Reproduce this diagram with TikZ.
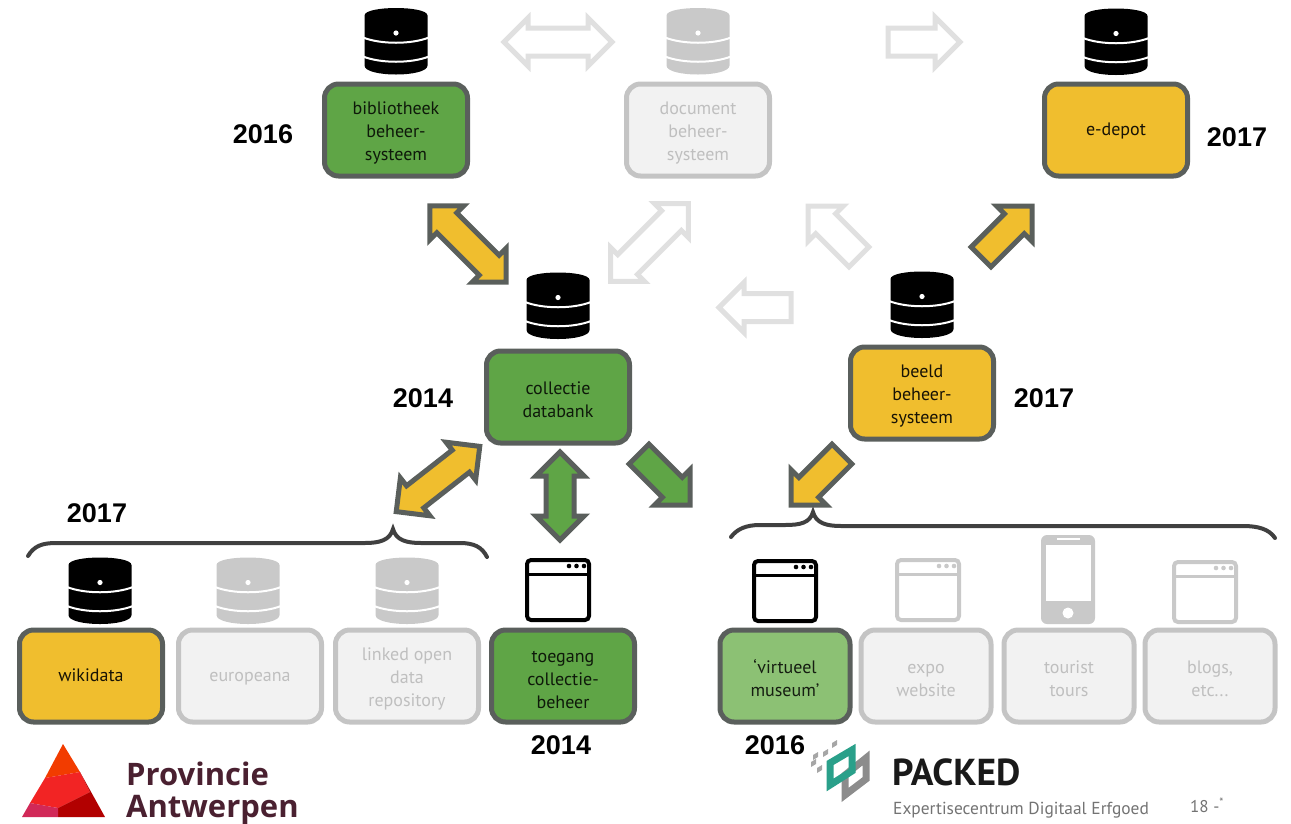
\documentclass[tikz,border=0pt]{standalone}
\usepackage{fontspec}
\usepackage{xcolor}
\usepackage{tikz}
\usetikzlibrary{shapes.arrows}
\setmainfont{Liberation Sans}
\newfontfamily\boxfont{PT Sans}
\newfontfamily\provfont{Open Sans}

\definecolor{boxgreen}{HTML}{5FA546}
\definecolor{boxlight}{HTML}{8CC174}
\definecolor{boxyellow}{HTML}{F0BE2E}
\definecolor{boxgrey}{HTML}{F2F2F2}
\definecolor{edgedark}{HTML}{5A5F5C}
\definecolor{edgegrey}{HTML}{C4C4C4}
\definecolor{arrowgrey}{HTML}{E0E0E0}
\definecolor{icongrey}{HTML}{C9C9C9}
\definecolor{provtext}{HTML}{4A2030}
\definecolor{packedteal}{HTML}{2AA08A}

\newcommand{\topgap}{\rule{0pt}{19pt}}
\newcommand{\onegap}{\rule[-5pt]{0pt}{20pt}}

\tikzset{
    sys/.style={rectangle, rounded corners=14, draw=edgedark, line width=5, inner sep=0,
        minimum width=143, minimum height=92, align=center,
        font=\boxfont\fontsize{18}{23}\selectfont},
    sysgreen/.style={sys, fill=boxgreen, text=black!85!boxgreen},
    syslight/.style={sys, fill=boxlight, text=black!85!boxlight, minimum width=130},
    sysyellow/.style={sys, fill=boxyellow, text=black!90!boxyellow},
    sysgrey/.style={sys, fill=boxgrey, draw=edgegrey, text=black!25},
    year/.style={font=\bfseries\fontsize{27}{27}\selectfont, inner sep=0},
    oneway/.style={single arrow, anchor=tip, line width=5, inner sep=0, outer sep=0,
        text height=23, text depth=0, single arrow head extend=11, single arrow head indent=0},
    twoway/.style={double arrow, line width=5, inner sep=0, outer sep=0,
        text height=23, text depth=0, double arrow head extend=10, double arrow head indent=0},
    onegrey/.style={oneway, draw=arrowgrey, fill=white},
    twogrey/.style={twoway, draw=arrowgrey, fill=white},
    oneyellow/.style={oneway, draw=edgedark, fill=boxyellow},
    twoyellow/.style={twoway, draw=edgedark, fill=boxyellow},
    onegreen/.style={oneway, draw=edgedark, fill=boxgreen},
    twogreen/.style={twoway, draw=edgedark, fill=boxgreen},
    bracket/.style={draw=black!75, line width=4, line cap=round},
    pics/dbicon/.style={code={
        \fill[#1] (-31.5,-26) .. controls (-31.5,-36) and (31.5,-36) .. (31.5,-26)
            -- (31.5,24) .. controls (31.5,36) and (-31.5,36) .. (-31.5,24) -- cycle;
        \draw[white, line width=2] (-33,-4) .. controls (-15,3) and (15,3) .. (33,-4)
            (-33,15) .. controls (-15,22) and (15,22) .. (33,15);
        \fill[white] (0,-8.5) circle (2.6);
    }},
    pics/winicon/.style={code={
        \draw[#1, line width=4, rounded corners=4, fill=white] (-31,-30) rectangle (31,30);
        \draw[#1, line width=3] (-31,-16) -- (31,-16);
        \foreach \dotx in {11,18.5,26} \fill[#1] (\dotx,-24) circle (2.3);
    }},
}

\begin{document}
\begin{tikzpicture}[x=1pt, y=-1pt]
    \useasboundingbox (0,0) rectangle (1291,823);

    % systems
    \node[sysgreen] (bib) at (396,130) {\topgap bibliotheek\\beheer-\\systeem};
    \node[sysgrey] (doc) at (698,130) {\topgap document\\beheer-\\systeem};
    \node[sysyellow] (dep) at (1116,130) {\onegap e-depot};
    \node[sysgreen] (col) at (558,397) {\topgap collectie\\databank};
    \node[sysyellow] (bee) at (922,393) {\topgap beeld\\beheer-\\systeem};
    \node[sysyellow] (wik) at (91,676) {\onegap wikidata};
    \node[sysgrey] (eur) at (250,676) {\onegap europeana};
    \node[sysgrey] (lod) at (407,676) {\topgap linked open\\data\\repository};
    \node[sysgreen] (toe) at (563,676) {\topgap toegang\\collectie-\\beheer};
    \node[syslight] (vir) at (785,676) {\topgap ‘virtueel\\museum’};
    \node[sysgrey, minimum width=130] (exp) at (926,676) {\topgap expo\\website};
    \node[sysgrey, minimum width=130] (tou) at (1069,676) {\topgap tourist\\tours};
    \node[sysgrey, minimum width=130] (blo) at (1210,676) {\topgap blogs,\\etc...};

    % icons
    \pic at (396,41.5) {dbicon=black};
    \pic at (698,41.5) {dbicon=icongrey};
    \pic at (1116,42) {dbicon=black};
    \pic at (558,306) {dbicon=black};
    \pic at (922,305) {dbicon=black};
    \pic at (100,591) {dbicon=black};
    \pic at (248,591) {dbicon=icongrey};
    \pic at (407,591) {dbicon=icongrey};
    \pic at (558,590) {winicon=black};
    \pic at (785,591) {winicon=black};
    \pic at (928,590) {winicon=icongrey};
    \pic at (1205,592) {winicon=icongrey};

    \fill[icongrey, rounded corners=6] (1041,535) rectangle (1095,624);
    \fill[white] (1046,545) rectangle (1091,601);
    \fill[white] (1068,613) circle (5.5);
    \draw[white, line width=1.5] (1057,539) -- (1080,539);

    % arrows
    \node[twogrey, minimum height=108] (a1) at (558,42) {};
    \node[onegrey, minimum height=72] (a2) at (960,42) {};
    \node[twoyellow, rotate=-45, minimum height=108] (a3) at (468,244) {};
    \node[twogrey, rotate=45, minimum height=110] (a4) at (649.5,242.5) {};
    \node[onegrey, rotate=135, minimum height=72] (a5) at (808,206) {};
    \node[onegrey, rotate=180, minimum height=72] (a6) at (719,307.5) {};
    \node[oneyellow, rotate=45, minimum height=72] (a7) at (1032,206) {};
    \node[twoyellow, rotate=38, minimum height=106] (a8) at (438,479) {};
    \node[twogreen, rotate=90, minimum height=88] (a9) at (560,496) {};
    \node[onegreen, rotate=-45, minimum height=72] (a10) at (690,505) {};
    \node[oneyellow, rotate=-135, minimum height=72] (a11) at (791,505) {};

    % braces
    \draw[bracket] (28,556) .. controls (34,546) and (42,543) .. (56,543) -- (365,543)
        .. controls (380,543) and (390,540) .. (393,529)
        .. controls (396,540) and (406,543) .. (421,543) -- (460,543)
        .. controls (474,543) and (482,547) .. (487,557);
    \draw[bracket] (731,537) .. controls (737,529) and (746,525) .. (760,525) -- (785,525)
        .. controls (800,525) and (810,523) .. (813,512)
        .. controls (816,523) and (826,526) .. (841,526) -- (1243,526)
        .. controls (1258,526) and (1269,529) .. (1275,538);

    % years
    \node[year] (y1) at (263,134) {2016};
    \node[year] (y2) at (1237,137) {2017};
    \node[year] (y3) at (423,398) {2014};
    \node[year] (y4) at (1044,398) {2017};
    \node[year] (y5) at (97,513) {2017};
    \node[year] (y6) at (561,745) {2014};
    \node[year] (y7) at (775,745) {2016};

    % provincie logo
    \fill[orange!50!red!95!black] (63,744) -- (80,772) -- (45,778) -- cycle;
    \fill[red!80!pink!95!black] (45,778) -- (80,772) -- (90,792) -- (58,808) -- (30,803) -- cycle;
    \fill[red!70!black] (80,772) -- (105,817) -- (58,817) -- (58,808) -- (90,792) -- cycle;
    \fill[magenta!50!red!85!black] (30,803) -- (58,808) -- (58,817) -- (22,817) -- cycle;
    \node[font=\provfont\bfseries\fontsize{31}{32}\selectfont, text=provtext, align=left, anchor=west, inner sep=0] (prov) at (126,793) {Provincie\\Antwerpen};

    % packed logo
    \foreach \sqx/\sqy in {813/755, 823/752, 832/743, 817/768, 811/762}
        \fill[black!35] (\sqx,\sqy) -- ++(5,-3) -- ++(0,5) -- ++(-5,3) -- cycle;
    \draw[black!45, line width=7] (845,775) -- (866,758) -- (866,779) -- (845,795) -- cycle;
    \draw[packedteal, line width=7] (830,763) -- (852,750) -- (852,771) -- (830,785) -- cycle;
    \node[font=\boxfont\bfseries\fontsize{37.5}{38}\selectfont, text=black!90, anchor=west, inner sep=0] (pac) at (892,772) {PACKED};
    \node[font=\boxfont\fontsize{17.4}{18}\selectfont, text=black!55, anchor=west, inner sep=0] (exp2) at (893,810) {Expertisecentrum Digitaal Erfgoed};
    \node[font=\boxfont\fontsize{17}{17}\selectfont, text=black!55, anchor=west, inner sep=0] (num) at (1190,805) {18 -\textsuperscript{*}};
\end{tikzpicture}
\end{document}
